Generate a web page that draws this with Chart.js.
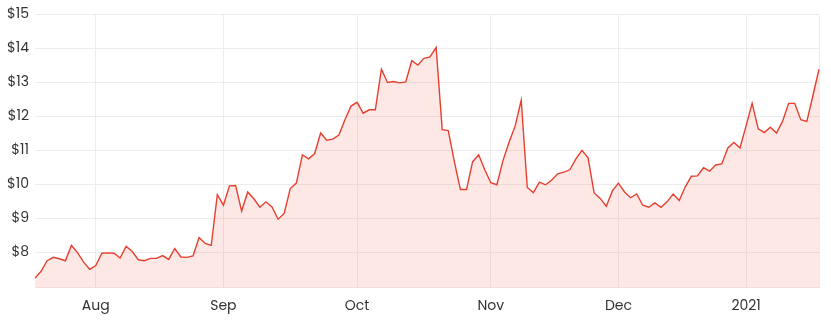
<!DOCTYPE html>
<html>
<head>
<meta charset="utf-8">
<script src="https://cdn.jsdelivr.net/npm/chart.js@4"></script>
<style>
  html, body { margin: 0; padding: 0; background: #fff; }
  #wrap { width: 831px; height: 325px; position: relative; }
</style>
</head>
<body>
<div id="wrap"><canvas id="priceChart"></canvas></div>
<script>
// Daily close prices, 20 Jul 2020 - 20 Jan 2021 (ASX trading days)
const prices = [
  7.26, 7.46, 7.77, 7.87, 7.83, 7.77, 8.22, 8.01, 7.73, 7.52,
  7.63, 7.99, 8.00, 7.99, 7.85, 8.19, 8.04, 7.80, 7.77, 7.84,
  7.84, 7.92, 7.81, 8.13, 7.88, 7.87, 7.91, 8.45, 8.28, 8.22,
  9.71, 9.40, 9.97, 9.98, 9.23, 9.79, 9.59, 9.34, 9.50, 9.35,
  8.99, 9.16, 9.89, 10.05, 10.88, 10.76, 10.91, 11.52, 11.31, 11.34,
  11.46, 11.91, 12.31, 12.42, 12.10, 12.20, 12.20, 13.39, 13.00, 13.03,
  12.99, 13.02, 13.64, 13.51, 13.71, 13.75, 14.03, 11.62, 11.59, 10.68,
  9.86, 9.86, 10.67, 10.88, 10.44, 10.06, 10.00, 10.71, 11.25, 11.72,
  12.48, 9.92, 9.77, 10.08, 10.00, 10.13, 10.32, 10.37, 10.44, 10.76,
  11.01, 10.79, 9.76, 9.60, 9.37, 9.82, 10.05, 9.79, 9.62, 9.73,
  9.40, 9.34, 9.47, 9.34, 9.50, 9.73, 9.54, 9.94, 10.25, 10.26,
  10.50, 10.40, 10.58, 10.61, 11.08, 11.24, 11.08, 11.73, 12.39, 11.64,
  11.53, 11.69, 11.52, 11.86, 12.39, 12.39, 11.91, 11.86, 12.62, 13.39
];

const startDate = "2020-07-20";
const holidays = ["2020-12-25", "2020-12-28", "2021-01-01"];
const monthNames = ["Jan", "Feb", "Mar", "Apr", "May", "Jun", "Jul", "Aug", "Sep", "Oct", "Nov", "Dec"];

// y axis range
const yMin = 7;
const yMax = 15;

const fmt = (d) => d.toISOString().slice(0, 10);

// build trading-day labels (weekdays minus exchange holidays)
const dates = [];
const cursor = new Date(startDate + "T00:00:00Z");
while (dates.length < prices.length) {
  const day = cursor.getUTCDay();
  const key = fmt(cursor);
  if (day !== 0 && day !== 6 && !holidays.includes(key)) {
    dates.push(key);
  }
  cursor.setUTCDate(cursor.getUTCDate() + 1);
}

/**
 * Returns the month label if index is the first trading day of a month
 * @param {number} i
 * @return {string}
 */
const monthLabel = (i) => {
  if (i === 0) return "";
  const cur = dates[i];
  const prev = dates[i - 1];
  if (cur.slice(5, 7) === prev.slice(5, 7)) return "";
  const m = parseInt(cur.slice(5, 7), 10) - 1;
  return m === 0 ? cur.slice(0, 4) : monthNames[m];
};

const gridColor = "#ececec";
const labelFont = { family: "Poppins, 'Open Sans', sans-serif", size: 14 };

const ctx = document.getElementById("priceChart").getContext("2d");

new Chart(ctx, {
  type: "line",
  data: {
    labels: dates,
    datasets: [
      {
        data: prices,
        borderColor: "#e5402f",
        backgroundColor: "rgba(247, 110, 95, 0.16)",
        borderWidth: 1.4,
        fill: "start",
        pointRadius: 0,
        tension: 0,
      },
    ],
  },
  options: {
    responsive: true,
    maintainAspectRatio: false,
    animation: false,
    layout: {
      padding: { top: 5, right: 12, left: 0, bottom: 0 },
    },
    scales: {
      x: {
        afterFit: (scale) => {
          scale.height = 38;
        },
        ticks: {
          autoSkip: false,
          maxRotation: 0,
          padding: 11,
          color: "#333",
          font: labelFont,
          callback: (value, index) => monthLabel(index),
        },
        grid: {
          drawTicks: false,
          color: (c) => {
            const i = c.index;
            if (i === dates.length - 1) return gridColor;
            return monthLabel(i) ? gridColor : "rgba(0,0,0,0)";
          },
        },
        border: { color: "#f2dcd9" },
      },
      y: {
        min: yMin,
        max: yMax,
        afterFit: (scale) => {
          scale.width = 35;
        },
        ticks: {
          stepSize: 1,
          padding: 6,
          color: "#333",
          font: labelFont,
          callback: (value) => (value === yMin ? "" : "$" + value),
        },
        grid: { drawTicks: false, color: gridColor },
        border: { display: false },
      },
    },
    plugins: {
      legend: { display: false },
      tooltip: { enabled: false },
    },
  },
});
</script>
</body>
</html>
